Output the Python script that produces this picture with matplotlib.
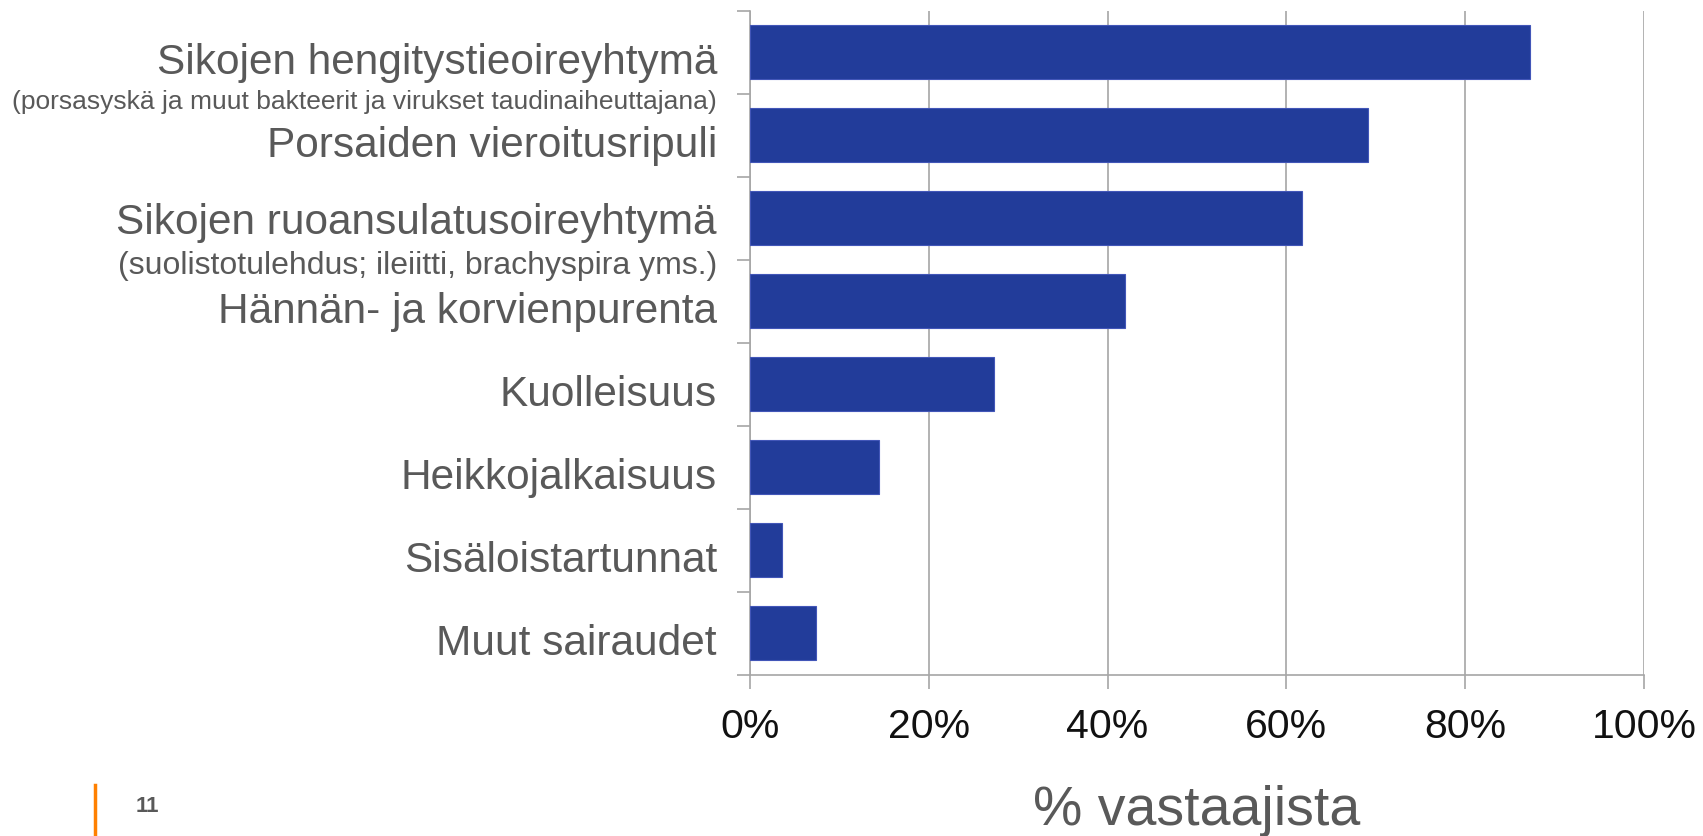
import matplotlib
matplotlib.use('Agg')
import matplotlib.pyplot as plt
import numpy as np

plt.rcParams['font.family'] = ['Liberation Sans', 'DejaVu Sans']

categories = ['Sikojen hengitystieoireyhtymä', 'Porsaiden vieroitusripuli',
              'Sikojen ruoansulatusoireyhtymä', 'Hännän- ja korvienpurenta',
              'Kuolleisuus', 'Heikkojalkaisuus', 'Sisäloistartunnat', 'Muut sairaudet']
values = [87.3, 69.1, 61.8, 41.9, 27.3, 14.4, 3.6, 7.35]
notes = {0: '(porsasyskä ja muut bakteerit ja virukset taudinaiheuttajana)',
         2: '(suolistotulehdus; ileiitti, brachyspira yms.)'}
xticks = [0, 20, 40, 60, 80, 100]
xlabel = '% vastaajista'
page = '11'

gray = '#595959'
grid = '#A6A6A6'

fig = plt.figure(figsize=(17.03, 8.36), dpi=100)
ax = fig.add_axes([0.4404, 0.1926, 0.5249, 0.7946])

y = np.arange(len(categories))
ax.barh(y, values, height=0.65, color='#223C9A', edgecolor='#4256B8', linewidth=0.8, zorder=3)

ax.set_xlim(0, 100)
ax.set_ylim(len(categories) - 0.5, -0.5)

ax.set_xticks(xticks)
ax.set_xticklabels([f'{t}%' for t in xticks], fontsize=29.5, color='#111111')
ax.tick_params(axis='x', length=10, width=1.2, color=grid, pad=14)
ax.set_yticks(np.arange(len(categories) + 1) - 0.5)
ax.set_yticklabels([])
ax.tick_params(axis='y', length=9.5, width=1.2, color=grid)
ax.grid(axis='x', color=grid, linewidth=1.2, zorder=0)

for s in ['top', 'right']:
    ax.spines[s].set_visible(False)
for s in ['left', 'bottom']:
    ax.spines[s].set_color(grid)
    ax.spines[s].set_linewidth(1.2)

# category labels sit a bit below the bar centre, notes just under the tick
tr = ax.get_yaxis_transform()
for i, name in enumerate(categories):
    off = 0.195 if i == 2 else 0.26
    ax.text(-0.037, i + off, name, transform=tr, ha='right', va='baseline',
            fontsize=30.5, color=gray)
ax.text(-0.037, 0.688, notes[0], transform=tr, ha='right', va='baseline',
        fontsize=19, color=gray)
ax.text(-0.037, 2.673, notes[2], transform=tr, ha='right', va='baseline',
        fontsize=23, color=gray)

fig.text(1197 / 1703, 1 - 825 / 836, xlabel, ha='center', va='baseline',
         fontsize=40, color=gray)
fig.text(136 / 1703, 1 - 812 / 836, page, ha='left', va='baseline',
         fontsize=16, fontweight='bold', color=gray)
fig.add_artist(plt.Line2D([95 / 1703, 95 / 1703], [0, 1 - 785 / 836],
                          color='#FF8000', linewidth=2.5))

fig.savefig('out.png', dpi=100)
